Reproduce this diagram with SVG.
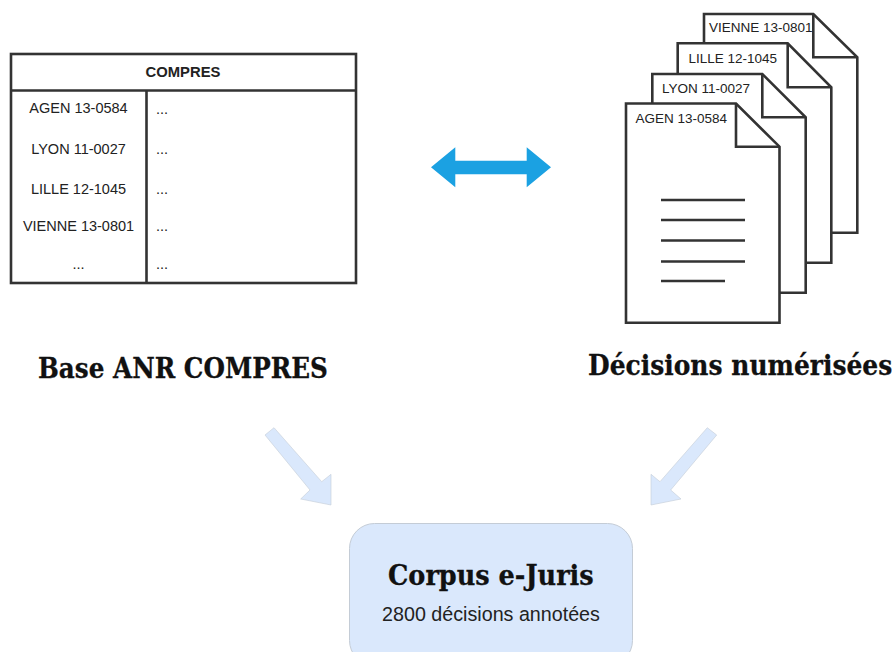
<svg xmlns="http://www.w3.org/2000/svg" width="896" height="652" viewBox="0 0 896 652">
<style>
.ln{fill:none;stroke:#333;stroke-width:2.6}
.thin{fill:none;stroke:#333;stroke-width:2.3}
.pg{fill:#fff;stroke:#333;stroke-width:2.6;stroke-linejoin:miter}
.t{font-family:"Liberation Sans",Arial,sans-serif;font-size:14.500px;fill:#222}
.d{font-size:13.500px}
.m{text-anchor:middle}
.h{font-family:"DejaVu Serif",serif;font-weight:700;font-size:27px;fill:#111;stroke:#111;stroke-width:.3}
.light{fill:#dae8fc;stroke:#c4ccd6;stroke-width:.6}
</style>
<rect width="896" height="652" fill="#fff"/>
<g id="table">
<rect class="ln" x="11" y="54" width="345" height="229"/>
<path class="ln" d="M11 90.500H356M146.500 90.500V283"/>
<text class="t m" x="183" y="77" style="font-weight:700;font-size:14.800px">COMPRES</text>
<text class="t m" x="78.500" y="113">AGEN 13-0584</text>
<text class="t m" x="78.500" y="154">LYON 11-0027</text>
<text class="t m" x="78.500" y="194">LILLE 12-1045</text>
<text class="t m" x="78.500" y="231">VIENNE 13-0801</text>
<text class="t m" x="78.500" y="269" fill="#666">...</text>
<text class="t" x="156" y="114">...</text>
<text class="t" x="156" y="154">...</text>
<text class="t" x="156" y="194">...</text>
<text class="t" x="156" y="231">...</text>
<text class="t" x="156" y="269">...</text>
</g>
<g id="doc-vienne">
<path class="pg" d="M704 14H813.300L857.300 57.300V232.700H704Z"/>
<path class="ln" d="M813.300 14V57.300H857.300"/>
<text class="t d" x="709" y="32">VIENNE 13-0801</text>
</g>
<g id="doc-lille">
<path class="pg" d="M677.700 43.300H787.700L831.300 87.300V262.700H677.700Z"/>
<path class="ln" d="M787.700 43.300V87.300H831.300"/>
<text class="t d" x="688.500" y="63">LILLE 12-1045</text>
</g>
<g id="doc-lyon">
<path class="pg" d="M652.300 74H762.300L805.700 117.300V292.700H652.300Z"/>
<path class="ln" d="M762.300 74V117.300H805.700"/>
<text class="t d" x="662" y="93">LYON 11-0027</text>
</g>
<g id="doc-agen">
<path class="pg" d="M626 103.500H736L779.500 146.700V322.700H626Z"/>
<path class="ln" d="M736 103.500V146.700H779.500"/>
<path class="thin" d="M661 200H745M661 220H745M661 240.500H745M661 261.500H745M661 281H725"/>
<text class="t d" x="635.500" y="123">AGEN 13-0584</text>
</g>
<g id="connectors">
<path id="link-both" fill="#1ba1e2" d="M431 167.300L455.300 147.300V160.700H526.700V147.300L551 167.300L526.700 187.300V174.300H455.300V187.300Z"/>
<path id="link-left" class="light" d="M265 435L274 427.700L321.700 481.700L331 474.300V505L300.700 499L310 490Z"/>
<path id="link-right" class="light" d="M716.700 435L707.300 427.700L660 481.700L651 474.300V505L681 499L670.700 490Z"/>
</g>
<g id="label-base"><text class="h" transform="translate(38 378) scale(.85 1)" textLength="341" lengthAdjust="spacingAndGlyphs">Base ANR COMPRES</text></g>
<g id="label-decisions"><text class="h" transform="translate(588 375) scale(.85 1)" textLength="358" lengthAdjust="spacingAndGlyphs">Décisions numérisées</text></g>
<g id="corpus">
<rect class="light" x="349.500" y="523.500" width="283" height="142" rx="25" ry="25" style="stroke-width:1"/>
<text class="h" transform="translate(388 585) scale(.85 1)" textLength="242" lengthAdjust="spacingAndGlyphs">Corpus e-Juris</text>
<text class="t m" x="491" y="621" style="font-size:19.700px">2800 décisions annotées</text>
</g>
</svg>
